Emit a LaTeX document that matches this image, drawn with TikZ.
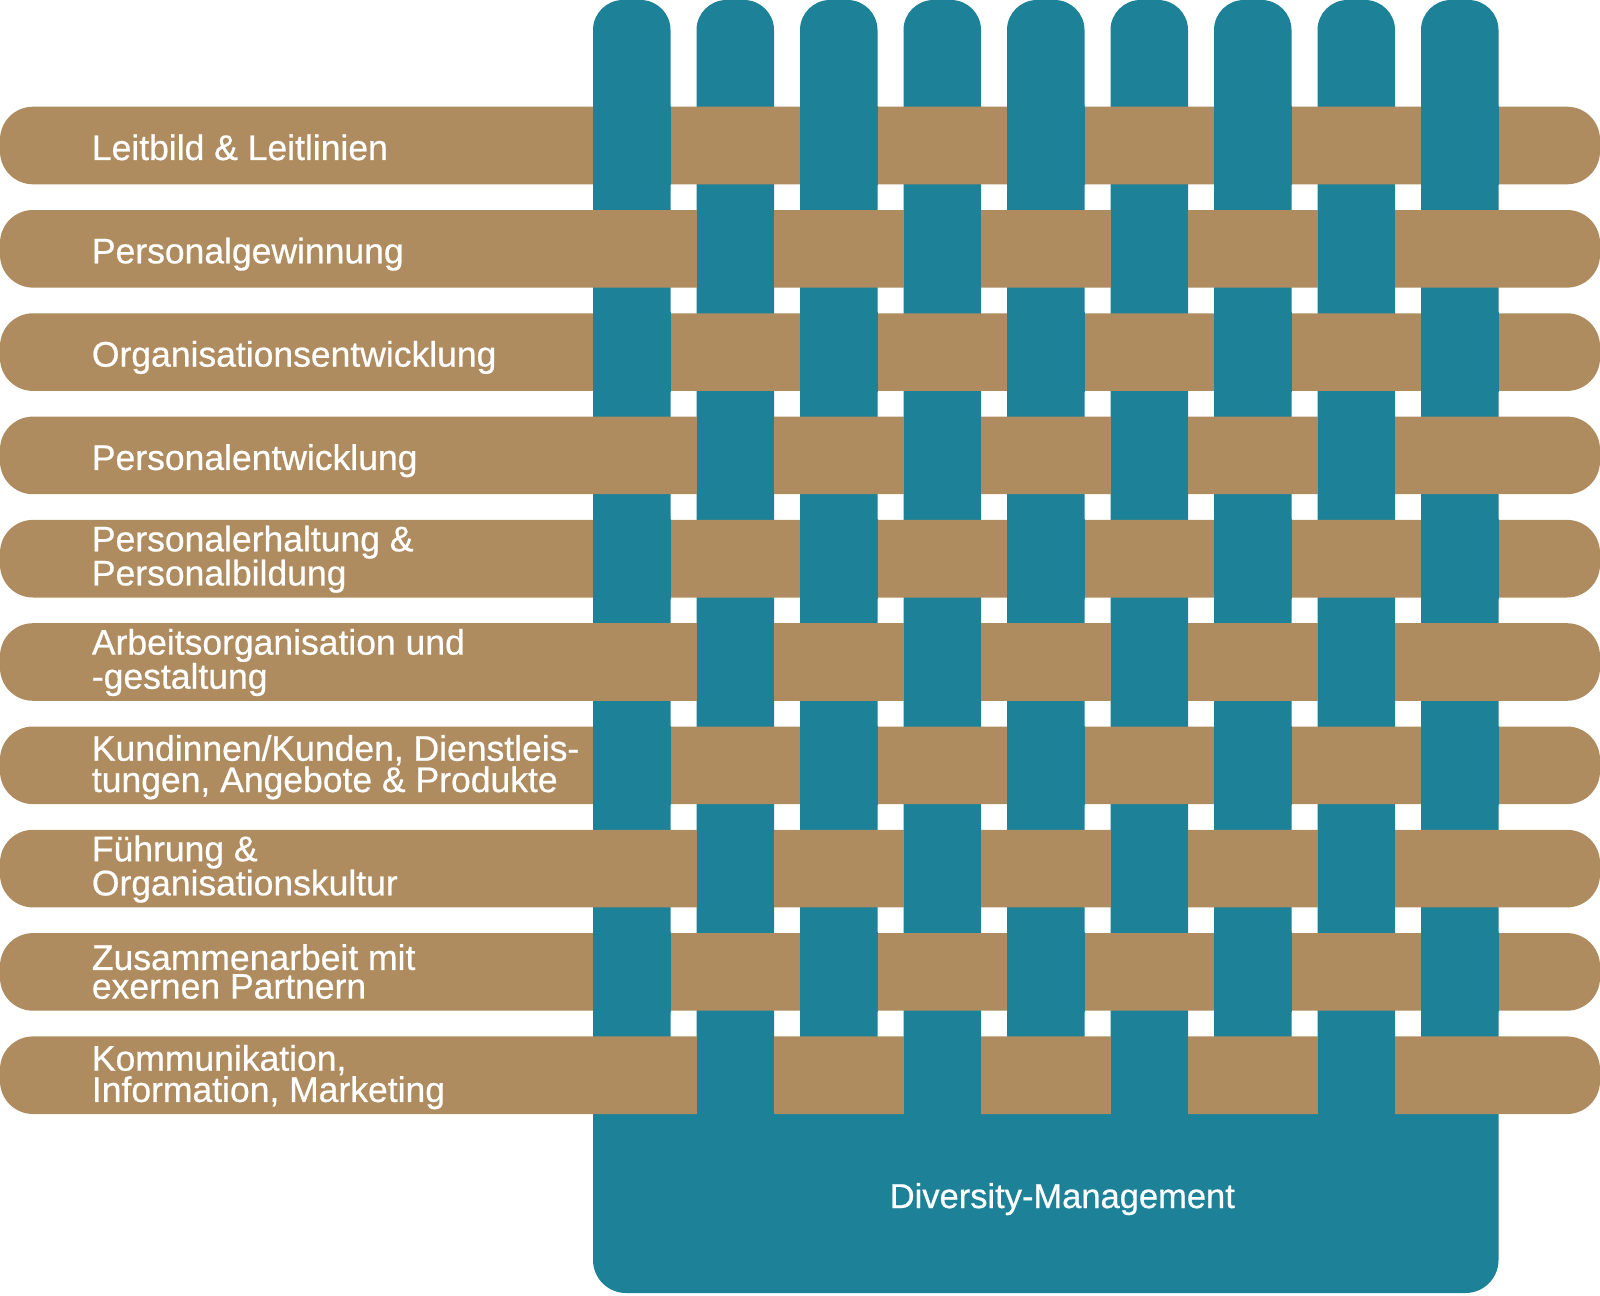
\documentclass[tikz,border=0pt]{standalone}
\usepackage{fontspec}
\setmainfont{Liberation Sans}[FakeBold=0.6]
\definecolor{dmteal}{HTML}{1D8198}
\definecolor{dmbraun}{HTML}{AE8C60}
\tikzset{
    %Kettfaeden (senkrecht)
    kette/.style={
           fill=dmteal,
           rounded corners=30pt},
    %Schussfaeden (waagrecht)
    schuss/.style={
           fill=dmbraun,
           rounded corners=33pt},
    %Kette liegt oben
    kreuzung/.style={
           fill=dmteal},
    %Texte
    beschriftung/.style={
           text=white,
           anchor=base west,
           align=left,
           inner sep=0pt,
           font=\fontsize{35.5}{28.7}\selectfont},
    sockeltext/.style={
           text=white,
           anchor=base,
           inner sep=0pt,
           font=\fontsize{34.5}{34.5}\selectfont}
}
\begin{document}
\begin{tikzpicture}[x=1pt,y=-1pt]
\useasboundingbox (0,0) rectangle (1600,1295);
 %kette
\foreach \i in {0,...,8}
  \fill[kette] ({593+\i*103.5},0) rectangle ++(77.5,1100);
\fill[kette,rounded corners=33pt] (593,1050) rectangle (1498.5,1293);
 %schuss
\foreach \r in {0,...,9}
  \fill[schuss] (0,{106.7+\r*103.3}) rectangle ++(1600,77.6);
 %kreuzungen
\foreach \r in {0,2,...,8}
  \foreach \i in {0,2,...,8}
    \fill[kreuzung] ({593+\i*103.5},{105.7+\r*103.3}) rectangle ++(77.5,79.6);
\foreach \r in {1,3,...,9}
  \foreach \i in {1,3,...,7}
    \fill[kreuzung] ({593+\i*103.5},{105.7+\r*103.3}) rectangle ++(77.5,79.6);
 %texte
\foreach \r/\txt in {0/{Leitbild \& Leitlinien},1/Personalgewinnung,
    2/Organisationsentwicklung,3/Personalentwicklung}
  \node[beschriftung] (b\r) at (91.7,{106.7+\r*103.3+38.8+14.5}) {\txt};
\foreach \r/\txt in {4/{Personalerhaltung \&\\Personalbildung},
    5/{Arbeitsorganisation und\\-gestaltung},
    6/{Kundinnen/Kunden, Dienstleis-\\tungen, Angebote \& Produkte},
    7/{Führung \&\\Organisationskultur},
    8/{Zusammenarbeit mit\\exernen Partnern},
    9/{Kommunikation,\\Information, Marketing}}
  \node[beschriftung] (b\r) at (91.7,{106.7+\r*103.3+38.8+26.7}) {\txt};
\node[sockeltext] (dm) at (1062.3,1208) {Diversity-Management};
\end{tikzpicture}
\end{document}
